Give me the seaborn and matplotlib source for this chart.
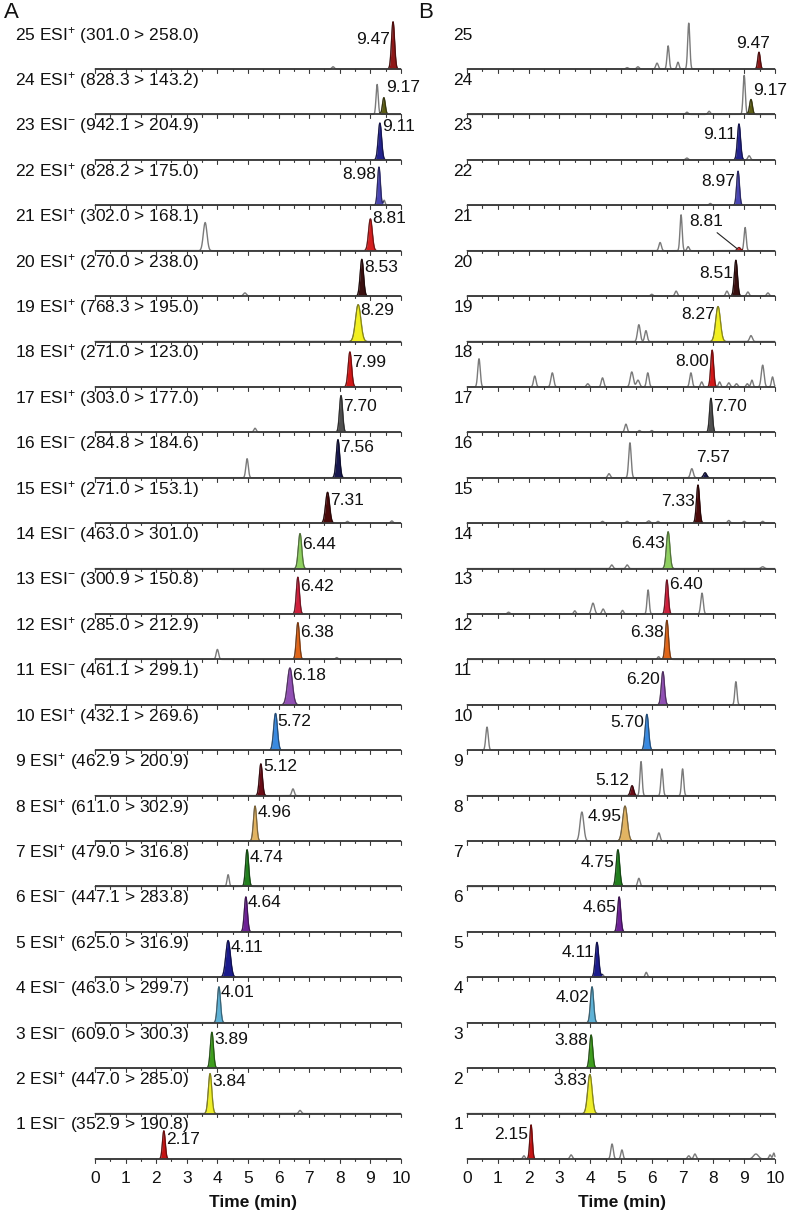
import numpy as np
import pandas as pd
import matplotlib
matplotlib.use("Agg")
import matplotlib.pyplot as plt
import matplotlib.colors as mcolors
import seaborn as sns

sns.set_theme(style="white")
plt.rcParams["font.family"] = ["Liberation Sans", "DejaVu Sans"]
plt.rcParams["mathtext.fontset"] = "custom"
plt.rcParams["mathtext.rm"] = "Liberation Sans"
plt.rcParams["mathtext.it"] = "Liberation Sans"
plt.rcParams["mathtext.default"] = "regular"

# ---------------- data ----------------
rows = list(range(1, 26))
ion_mode = ["-", "+", "-", "-", "+", "-", "+", "+", "+", "+", "-", "+", "-",
            "-", "+", "-", "+", "+", "+", "+", "+", "+", "-", "+", "+"]
transitions = ["352.9 > 190.8", "447.0 > 285.0", "609.0 > 300.3", "463.0 > 299.7",
               "625.0 > 316.9", "447.1 > 283.8", "479.0 > 316.8", "611.0 > 302.9",
               "462.9 > 200.9", "432.1 > 269.6", "461.1 > 299.1", "285.0 > 212.9",
               "300.9 > 150.8", "463.0 > 301.0", "271.0 > 153.1", "284.8 > 184.6",
               "303.0 > 177.0", "271.0 > 123.0", "768.3 > 195.0", "270.0 > 238.0",
               "302.0 > 168.1", "828.2 > 175.0", "942.1 > 204.9", "828.3 > 143.2",
               "301.0 > 258.0"]
rt_A = [2.17, 3.84, 3.89, 4.01, 4.11, 4.64, 4.74, 4.96, 5.12, 5.72, 6.18, 6.38, 6.42,
        6.44, 7.31, 7.56, 7.70, 7.99, 8.29, 8.53, 8.81, 8.98, 9.11, 9.17, 9.47]
rt_B = [2.15, 3.83, 3.88, 4.02, 4.11, 4.65, 4.75, 4.95, 5.12, 5.70, 6.20, 6.38, 6.40,
        6.43, 7.33, 7.57, 7.70, 8.00, 8.27, 8.51, 8.81, 8.97, 9.11, 9.17, 9.47]
# apex positions as drawn on the time axis
apex_A = [2.25, 3.76, 3.82, 4.05, 4.35, 4.93, 4.97, 5.23, 5.42, 5.90, 6.37, 6.63, 6.63,
          6.70, 7.60, 7.94, 8.04, 8.33, 8.60, 8.72, 9.00, 9.28, 9.31, 9.44, 9.74]
apex_B = [2.08, 3.99, 4.03, 4.06, 4.22, 4.94, 4.90, 5.13, 5.36, 5.84, 6.36, 6.49, 6.49,
          6.53, 7.50, 7.73, 7.92, 7.96, 8.15, 8.73, 8.83, 8.80, 8.83, 9.22, 9.48]
# relative peak heights (1 = one trace spacing)
height_A = [0.62, 0.88, 0.79, 0.79, 0.81, 0.77, 0.81, 0.77, 0.70, 0.81, 0.81, 0.81, 0.81,
            0.77, 0.68, 0.84, 0.81, 0.77, 0.81, 0.81, 0.70, 0.84, 0.81, 0.37, 1.04]
height_B = [0.75, 0.86, 0.73, 0.79, 0.77, 0.77, 0.81, 0.77, 0.22, 0.79, 0.73, 0.86, 0.75,
            0.81, 0.84, 0.11, 0.75, 0.81, 0.77, 0.79, 0.07, 0.75, 0.79, 0.33, 0.37]
sigma_A = [0.045, 0.055, 0.05, 0.05, 0.075, 0.05, 0.05, 0.05, 0.05, 0.06, 0.08, 0.05, 0.05,
           0.055, 0.065, 0.055, 0.05, 0.055, 0.085, 0.055, 0.06, 0.045, 0.055, 0.045, 0.05]
sigma_B = [0.04, 0.07, 0.05, 0.05, 0.055, 0.05, 0.055, 0.075, 0.05, 0.055, 0.05, 0.05, 0.045,
           0.055, 0.05, 0.05, 0.045, 0.045, 0.075, 0.05, 0.05, 0.045, 0.05, 0.045, 0.04]
colors = ["#c41414", "#eeee2a", "#3f9e1e", "#5fb2d6", "#1b1b8c", "#6e2196", "#22801e",
          "#e2b462", "#6a0c16", "#3a8ae0", "#9150b4", "#e0661a", "#d0203c", "#8fd060",
          "#4a0a0a", "#17174e", "#4f4f4f", "#d21818", "#f2f020", "#3a1010", "#d42020",
          "#4a46b4", "#24248e", "#5e5e14", "#8e1818"]

# interfering (unlabelled) peaks: (row, time, relative height, sigma)
others_A = [(25, 7.78, 0.05, 0.04), (24, 9.22, 0.66, 0.035), (22, 9.45, 0.11, 0.03),
            (21, 3.60, 0.62, 0.06), (20, 4.90, 0.07, 0.05), (17, 5.23, 0.09, 0.04),
            (16, 4.97, 0.42, 0.04), (15, 8.25, 0.04, 0.04), (15, 9.70, 0.05, 0.04),
            (12, 4.00, 0.22, 0.04), (12, 7.90, 0.04, 0.04), (9, 6.47, 0.15, 0.04),
            (7, 4.35, 0.26, 0.035), (2, 6.70, 0.07, 0.04)]
others_B = [(25, 5.20, 0.03, 0.04), (25, 5.55, 0.05, 0.04), (25, 6.17, 0.13, 0.04),
            (25, 6.53, 0.51, 0.035), (25, 6.85, 0.15, 0.035), (25, 7.20, 1.01, 0.035),
            (24, 7.14, 0.05, 0.04), (24, 7.86, 0.07, 0.04), (24, 9.00, 0.86, 0.035),
            (23, 7.14, 0.04, 0.04), (23, 9.16, 0.09, 0.04), (22, 7.90, 0.04, 0.04),
            (21, 6.27, 0.18, 0.04), (21, 6.95, 0.79, 0.035), (21, 7.18, 0.09, 0.035),
            (21, 9.03, 0.51, 0.035),
            (20, 6.00, 0.04, 0.04), (20, 6.79, 0.11, 0.04), (20, 8.44, 0.11, 0.04),
            (20, 9.12, 0.09, 0.04), (20, 9.77, 0.07, 0.04),
            (19, 5.58, 0.37, 0.045), (19, 5.81, 0.24, 0.04), (19, 9.22, 0.13, 0.045),
            (18, 0.39, 0.62, 0.04), (18, 2.20, 0.24, 0.04), (18, 2.77, 0.31, 0.045),
            (18, 3.92, 0.07, 0.04), (18, 4.40, 0.20, 0.04), (18, 5.35, 0.33, 0.05),
            (18, 5.55, 0.15, 0.05), (18, 5.87, 0.31, 0.04), (18, 7.27, 0.31, 0.04),
            (18, 7.62, 0.11, 0.035), (18, 8.20, 0.11, 0.035), (18, 8.50, 0.09, 0.04),
            (18, 8.75, 0.07, 0.04), (18, 9.10, 0.07, 0.035), (18, 9.25, 0.15, 0.035),
            (18, 9.60, 0.48, 0.045), (18, 9.92, 0.22, 0.035),
            (17, 5.16, 0.18, 0.04), (17, 5.60, 0.04, 0.04), (17, 6.00, 0.04, 0.04),
            (16, 4.61, 0.09, 0.04), (16, 5.29, 0.77, 0.04), (16, 7.30, 0.20, 0.045),
            (15, 4.40, 0.04, 0.04), (15, 5.20, 0.04, 0.04), (15, 5.90, 0.05, 0.05),
            (15, 6.20, 0.04, 0.04), (15, 8.50, 0.06, 0.04), (15, 9.00, 0.04, 0.04),
            (15, 9.60, 0.04, 0.04),
            (14, 4.70, 0.08, 0.04), (14, 5.20, 0.08, 0.04), (14, 9.60, 0.04, 0.05),
            (13, 1.35, 0.04, 0.04), (13, 3.50, 0.07, 0.035), (13, 4.09, 0.24, 0.05),
            (13, 4.42, 0.11, 0.04), (13, 5.05, 0.08, 0.035), (13, 5.88, 0.53, 0.035),
            (13, 7.63, 0.46, 0.04),
            (12, 6.22, 0.06, 0.035), (11, 8.73, 0.51, 0.035), (10, 0.65, 0.51, 0.04),
            (9, 5.65, 0.75, 0.035), (9, 6.33, 0.59, 0.035), (9, 7.00, 0.59, 0.035),
            (8, 3.73, 0.64, 0.06), (8, 6.23, 0.18, 0.04), (7, 5.58, 0.18, 0.04),
            (5, 4.40, 0.06, 0.035), (5, 5.82, 0.11, 0.035),
            (1, 1.85, 0.07, 0.035), (1, 3.38, 0.09, 0.04), (1, 4.71, 0.33, 0.04),
            (1, 5.03, 0.20, 0.035), (1, 7.20, 0.07, 0.04), (1, 7.40, 0.11, 0.04),
            (1, 9.38, 0.11, 0.08), (1, 9.84, 0.09, 0.035), (1, 9.96, 0.13, 0.03)]
time_ticks = list(range(0, 11))

# ---------------- layout ----------------
PXY = 45.4           # pixels per trace spacing
fig = plt.figure(figsize=(7.9, 12.15), dpi=100)
axA = fig.add_axes([0, 0, 420 / 790, 1])
axB = fig.add_axes([420 / 790, 0, 370 / 790, 1])
ylim = (-(1215 - 1159) / PXY, 24 + 69 / PXY)
axA.set_xlim(-95 / 30.6, 325 / 30.6)
axB.set_xlim((420 - 467) / 30.8, (790 - 467) / 30.8)
for ax in (axA, axB):
    ax.set_ylim(*ylim)
    ax.axis("off")

t = np.linspace(0, 10, 2001)


def gauss(x0, h, s):
    return h * np.exp(-0.5 * ((t - x0) / s) ** 2)


# label layout (side, y offset in px)
side_A = ["r"] * 25
side_A[25 - 1] = "l"
side_A[22 - 1] = "l"
yoff_A = [19, 32, 29, 30, 30, 29, 29, 29, 29, 29, 29, 27, 27, 24, 23, 30, 26, 24, 31,
          29, 32, 31, 33, 27, 30]
side_B = ["l"] * 25
for r in (24, 17, 13):
    side_B[r - 1] = "r"
side_B[25 - 1] = ("c", -0.19)
side_B[16 - 1] = ("c", 0.26)
side_B[21 - 1] = ("c", -1.05)
yoff_B = [24, 33, 28, 25, 25, 24, 24, 25, 15, 28, 25, 27, 29, 25, 22, 20, 26, 25, 27,
          23, 29, 24, 25, 24, 26]


def draw_panel(ax, apex, heights, sigmas, rts, others, sides, yoffs, tick_lbl_x):
    records = []
    for i, r in enumerate(rows):
        y0 = r - 1
        bg = np.zeros_like(t)
        for (rr, x0, h, s) in others:
            if rr == r:
                bg += gauss(x0, h, s)
        main = gauss(apex[i], heights[i], sigmas[i])
        records.append(pd.DataFrame({"t": t, "y": y0 + bg + main, "row": r}))
        # coloured analyte peak
        m = main > 0.004
        col = colors[i]
        dark = tuple(0.55 * c for c in mcolors.to_rgb(col))
        ax.fill_between(t[m], (y0 + bg)[m], (y0 + bg + main)[m], color=col, lw=0, zorder=3)
        ax.plot(t[m], (y0 + bg + main)[m], color=dark, lw=0.8, zorder=4)
    df = pd.concat(records, ignore_index=True)
    sns.lineplot(data=df, x="t", y="y", units="row", estimator=None, sort=False,
                 color="#7a7a7a", lw=1.0, ax=ax, legend=False, zorder=2)
    # baselines and their minor ticks
    ticks = np.arange(0, 10.01, 0.5)
    for r in rows:
        y0 = r - 1
        ax.plot([0, 10], [y0, y0], color="#3a3a3a", lw=1.3, zorder=5,
                solid_capstyle="butt")
        for tk in ticks:
            ln = 0.085 if abs(tk - round(tk)) < 1e-6 else 0.05
            ax.plot([tk, tk], [y0, y0 - ln], color="#3a3a3a", lw=0.8, zorder=5)
    # retention time labels
    for i, r in enumerate(rows):
        y0 = r - 1
        yy = y0 + yoffs[i] / PXY
        s = sides[i]
        lbl = f"{rts[i]:.2f}"
        if s == "r":
            ax.text(apex[i] + 0.07, yy, lbl, ha="left", va="center", fontsize=12.5,
                    color="#111111", zorder=6)
        elif s == "l":
            ax.text(apex[i] - 0.1, yy, lbl, ha="right", va="center", fontsize=12.5,
                    color="#111111", zorder=6)
        else:
            ax.text(apex[i] + s[1], yy, lbl, ha="center", va="center", fontsize=12.5,
                    color="#111111", zorder=6)
    # x tick labels and title
    for v in time_ticks:
        ax.text(v, -0.43, str(v), ha="center", va="center", fontsize=12.5, color="#111111")
    ax.text(tick_lbl_x, -0.95, "Time (min)", ha="center", va="center", fontsize=12.5,
            fontweight="bold", color="#111111")


draw_panel(axA, apex_A, height_A, sigma_A, rt_A, others_A, side_A, yoff_A, 5.16)
draw_panel(axB, apex_B, height_B, sigma_B, rt_B, others_B, side_B, yoff_B, 5.03)

# leader line for peak 21 in panel B
axB.plot([8.12, 8.77], [20 + 18 / PXY, 20 + 2 / PXY], color="#222222", lw=0.8, zorder=6)

# trace labels
for i, r in enumerate(rows):
    y0 = r - 1 + 34 / PXY
    axA.text(-2.61, y0, f"{r} ESI$^{{{ion_mode[i]}}}$ ({transitions[i]})", ha="left",
             va="center", fontsize=12.5, color="#111111")
    axB.text(-0.45, y0, f"{r}", ha="left", va="center", fontsize=12.5, color="#111111")

axA.text(-95 / 30.6 + 0.12, 25.25, "A", ha="left", va="center", fontsize=16, color="#111111")
axB.text((420 - 467) / 30.8 - 0.05, 25.25, "B", ha="left", va="center", fontsize=16,
         color="#111111")

fig.savefig("out.png", dpi=100, facecolor="white")
